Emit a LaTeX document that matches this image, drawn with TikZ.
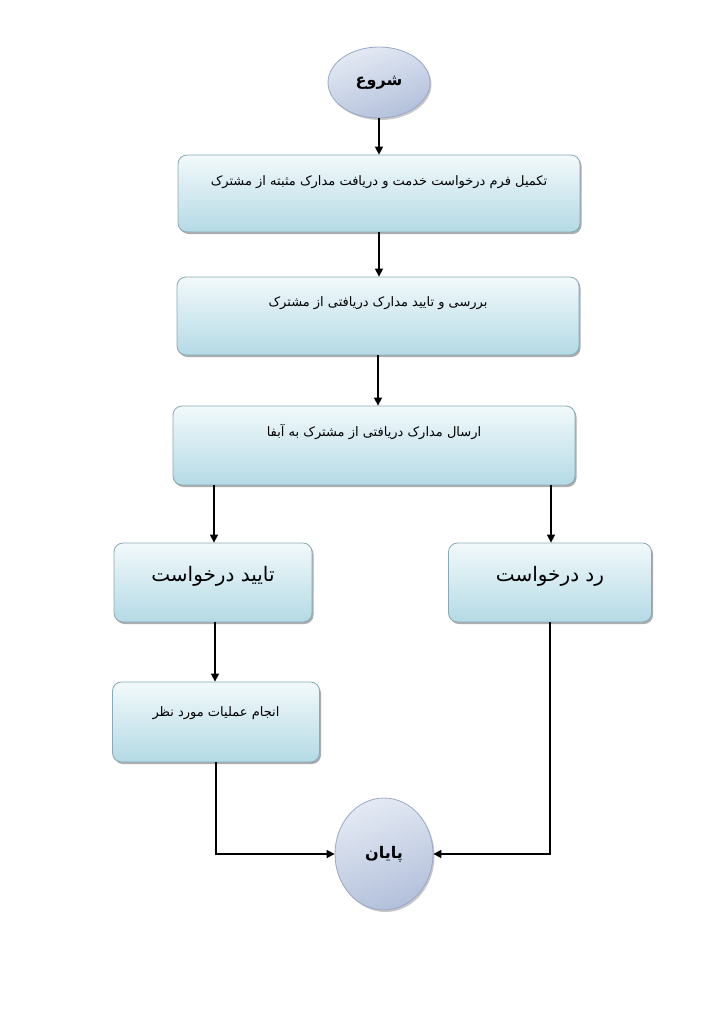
\documentclass[tikz,border=0pt]{standalone}
\usepackage{fontspec}
\usetikzlibrary{arrows.meta,shadows,shapes.geometric}
\newfontfamily\fa[Script=Arabic]{DejaVu Sans}
\TeXXeTstate=1
\definecolor{boxtop}{HTML}{F2F9FB}
\definecolor{boxbot}{HTML}{B4DAE5}
\definecolor{boxline}{HTML}{86AAB6}
\definecolor{elltop}{HTML}{E4EAF4}
\definecolor{ellbot}{HTML}{B3C0DB}
\definecolor{ellline}{HTML}{9AA8C6}
\begin{document}
\begin{tikzpicture}[x=1pt,y=-1pt,
  stepbox/.style={rectangle, rounded corners=9pt, draw=boxline, line width=0.8pt,
    top color=boxtop, bottom color=boxbot, inner xsep=0pt, inner ysep=0pt,
    drop shadow={shadow xshift=1.5pt, shadow yshift=-2pt, fill=gray!75, opacity=0.85},
    font=\fa\fontsize{13}{15}\selectfont},
  bigbox/.style={stepbox, font=\fa\fontsize{20}{23}\selectfont},
  term/.style={ellipse, draw=ellline, line width=0.8pt, top color=elltop, bottom color=ellbot,
    shading angle=20, inner sep=0pt,
    drop shadow={shadow xshift=1.5pt, shadow yshift=-2pt, fill=gray!60, opacity=0.7},
    font=\fa\bfseries\fontsize{16}{19}\selectfont},
  arr/.style={line width=1.5pt, -{Triangle[length=8pt,width=8pt]}}
]
\useasboundingbox[fill=white] (0,0) rectangle (712,1015);

\node[term, minimum width=102pt, minimum height=71pt] (start) at (379,82.5) {\beginR شروع\endR};

\node[stepbox, minimum width=402pt, text height=30pt, text depth=47pt] (b1) at (379,193.5)
  {\beginR تکمیل فرم درخواست خدمت و دریافت مدارک مثبته از مشترک\endR};
\node[stepbox, minimum width=402pt, text height=29pt, text depth=49pt] (b2) at (378,316)
  {\beginR بررسی و تایید مدارک دریافتی از مشترک\endR};
\node[stepbox, minimum width=402pt, text height=30pt, text depth=49pt] (b3) at (374,445.5)
  {\beginR ارسال مدارک دریافتی از مشترک به آبفا\endR};
\node[bigbox, minimum width=198pt, text height=38pt, text depth=41pt] (b4) at (213,582.5)
  {\beginR تایید درخواست\endR};
\node[bigbox, minimum width=203pt, text height=38pt, text depth=41pt] (b5) at (550,582.5)
  {\beginR رد درخواست\endR};
\node[stepbox, minimum width=207pt, text height=34pt, text depth=46pt] (b6) at (216,722)
  {\beginR انجام عملیات مورد نظر\endR};

\node[term, minimum width=98pt, minimum height=112pt] (end) at (384,854) {\beginR پایان\endR};

\draw[arr] (start.south) -- (b1.north);
\draw[arr] (b1.south) -- (b1.south |- b2.north);
\draw[arr] (b2.south) -- (b2.south |- b3.north);
\draw[arr] (b3.south -| b4.north) ++(1,0) -- ([xshift=1pt]b4.north);
\draw[arr] (b3.south -| b5.north) ++(1,0) -- ([xshift=1pt]b5.north);
\draw[arr] (b4.south) ++(2,0) -- ([xshift=2pt]b6.north -| b4.south);
\draw[arr] (b6.south) |- (end.west);
\draw[arr] (b5.south) |- (end.east);
\end{tikzpicture}
\end{document}
